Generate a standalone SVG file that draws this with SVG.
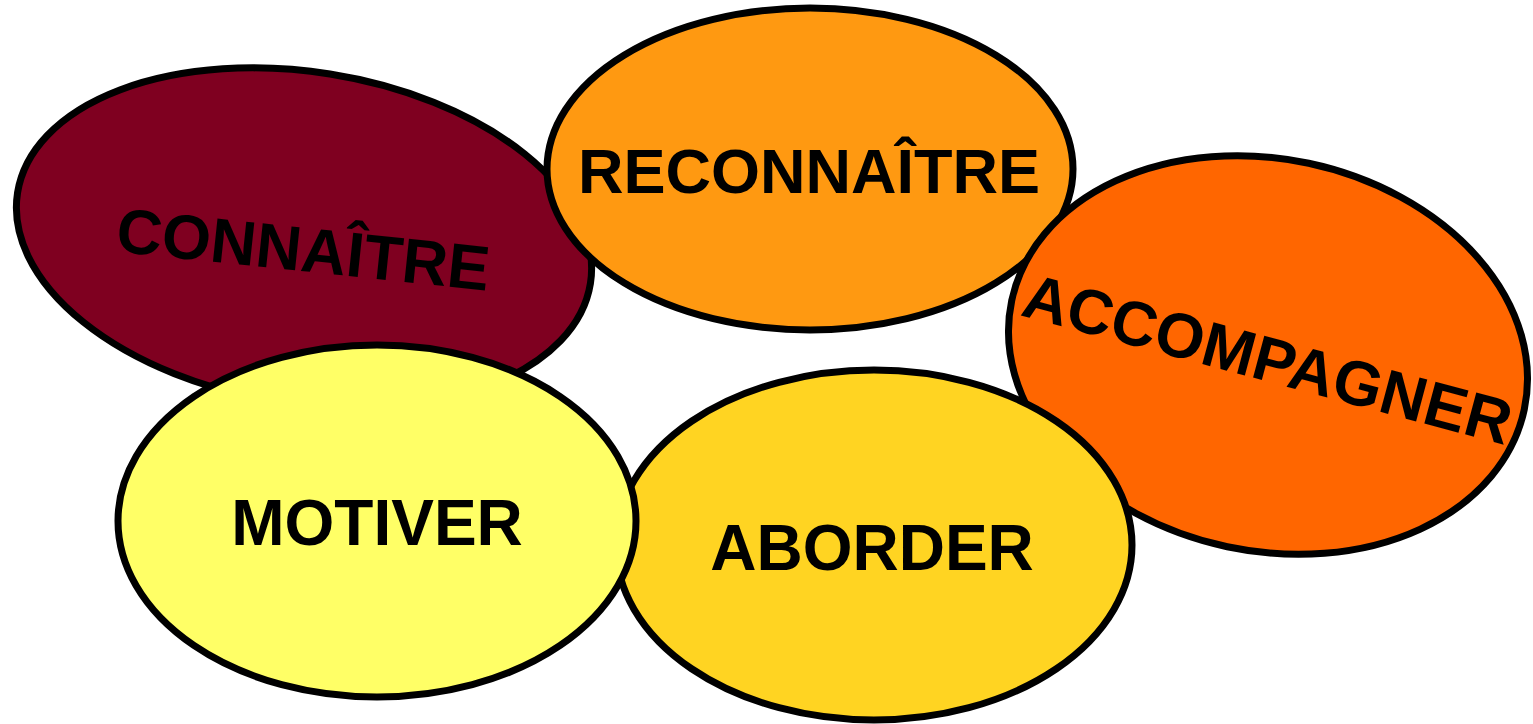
<svg xmlns="http://www.w3.org/2000/svg" width="1533" height="724" viewBox="0 0 1533 724">
<style>
.e{stroke:#000;stroke-width:7}
.t{font-family:"Liberation Sans",Arial,sans-serif;font-weight:bold;font-size:63px;fill:#000;text-anchor:middle}
</style>
<rect width="1533" height="724" fill="#fff"/>
<g id="connaitre">
<ellipse class="e" cx="304" cy="238" rx="290" ry="166" transform="rotate(9 304 238)" fill="#7F0020"/>
<text class="t" x="301" y="271" transform="rotate(6 301 271)">CONNAÎTRE</text>
</g>
<g id="reconnaitre">
<ellipse class="e" cx="810" cy="169" rx="263" ry="161" fill="#FF9911"/>
<text class="t" x="809" y="193">RECONNAÎTRE</text>
</g>
<g id="accompagner">
<ellipse class="e" cx="1268" cy="355" rx="262" ry="196" transform="rotate(12 1268 355)" fill="#FF6600"/>
<text class="t" x="1262" y="380" transform="rotate(15 1262 380)">ACCOMPAGNER</text>
</g>
<g id="aborder">
<ellipse class="e" cx="874" cy="545" rx="258" ry="175" fill="#FFD422"/>
<text class="t" x="872" y="570" style="font-size:64px">ABORDER</text>
</g>
<g id="motiver">
<ellipse class="e" cx="377" cy="521" rx="259" ry="176" fill="#FFFF66"/>
<text class="t" x="377" y="545" style="font-size:64px">MOTIVER</text>
</g>
<g id="connectors"/>
</svg>
